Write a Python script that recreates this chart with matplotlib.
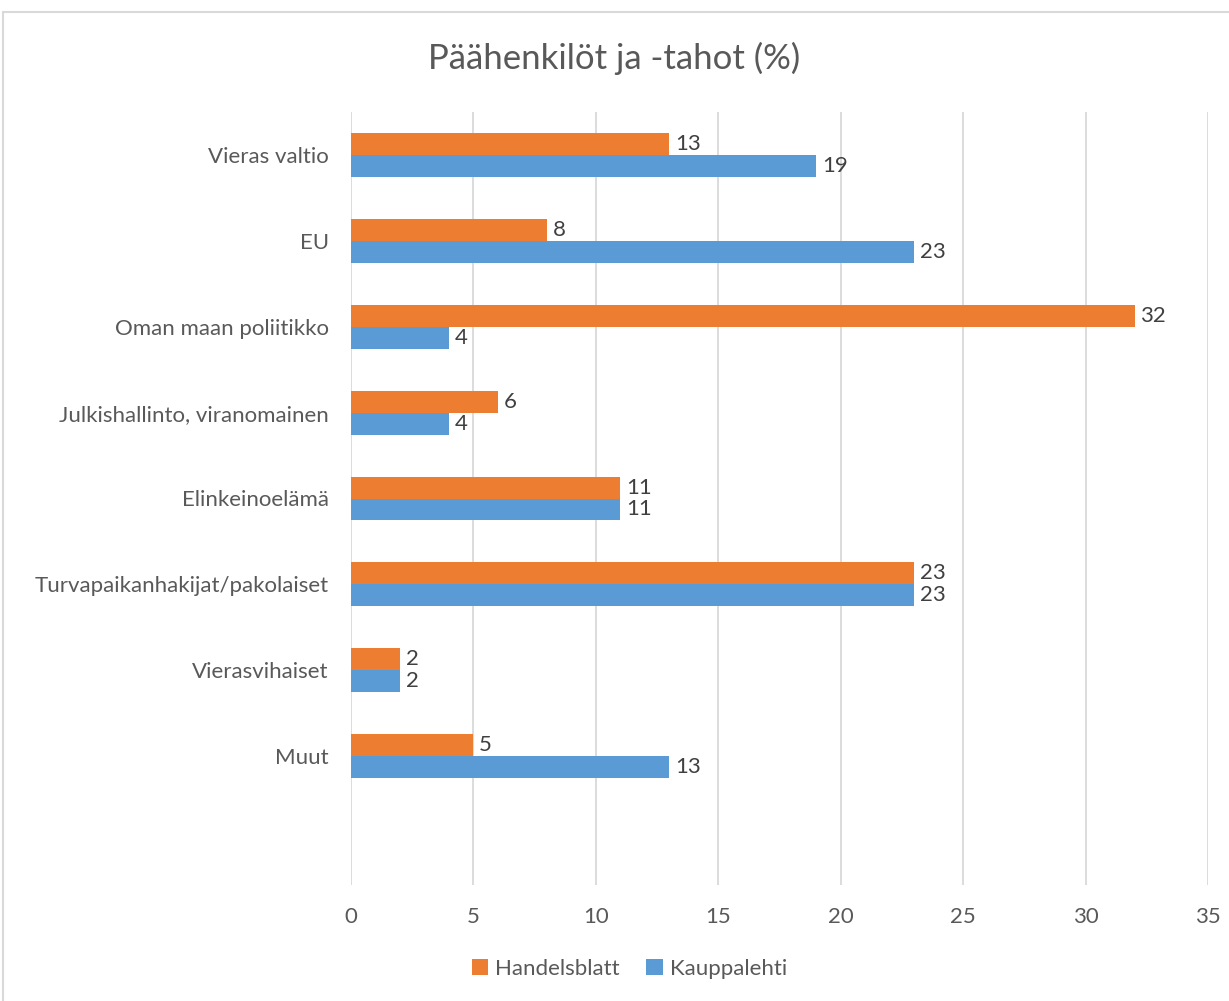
import numpy as np
import matplotlib.pyplot as plt
from matplotlib.patches import Rectangle

plt.rcParams['font.family'] = ['Lato', 'DejaVu Sans']

categories = ['Vieras valtio', 'EU', 'Oman maan poliitikko',
              'Julkishallinto, viranomainen', 'Elinkeinoelämä',
              'Turvapaikanhakijat/pakolaiset', 'Vierasvihaiset', 'Muut']
handelsblatt = [13, 8, 32, 6, 11, 23, 2, 5]
kauppalehti = [19, 23, 4, 4, 11, 23, 2, 13]
xticks = [0, 5, 10, 15, 20, 25, 30, 35]

orange = '#ED7D31'
blue = '#5B9BD5'
grid = '#D9D9D9'
text = '#595959'

fig = plt.figure(figsize=(12.29, 10.01), dpi=100)
ax = fig.add_axes([351 / 1229, 1 - 885 / 1001, 857 / 1229, 773 / 1001])

y = np.arange(len(categories))
h = 0.256
bh = ax.barh(y - h / 2, handelsblatt, height=h, color=orange, label='Handelsblatt', zorder=3)
bk = ax.barh(y + h / 2, kauppalehti, height=h, color=blue, label='Kauppalehti', zorder=3)

for bars in (bh, bk):
    ax.bar_label(bars, padding=4, fontsize=16, color='#404040')

ax.set_ylim(len(categories) + 0.5, -0.5)
ax.set_xlim(0, 35)
ax.set_xticks(xticks)
ax.set_yticks(y)
ax.set_yticklabels(categories)
ax.tick_params(axis='both', length=0, labelsize=16, labelcolor=text)
ax.tick_params(axis='y', pad=16)
ax.tick_params(axis='x', pad=16)
ax.grid(axis='x', color=grid, linewidth=1.3, zorder=0)
for s in ax.spines.values():
    s.set_visible(False)

fig.text(0.5, 1 - 58 / 1001, 'Päähenkilöt ja -tahot (%)', ha='center', va='center',
         fontsize=25, color=text)

fig.legend(handles=[bh, bk], loc='center', bbox_to_anchor=(0.512, 1 - 969 / 1001),
           ncol=2, frameon=False, fontsize=16, labelcolor=text,
           handlelength=0.75, handleheight=0.75, handletextpad=0.3, columnspacing=1.2)

fig.patches.append(Rectangle((3 / 1229, -0.01), 1.05, 1.01 - 12 / 1001,
                             transform=fig.transFigure, fill=False,
                             edgecolor=grid, linewidth=1.5))

fig.savefig('out.png', dpi=100)
